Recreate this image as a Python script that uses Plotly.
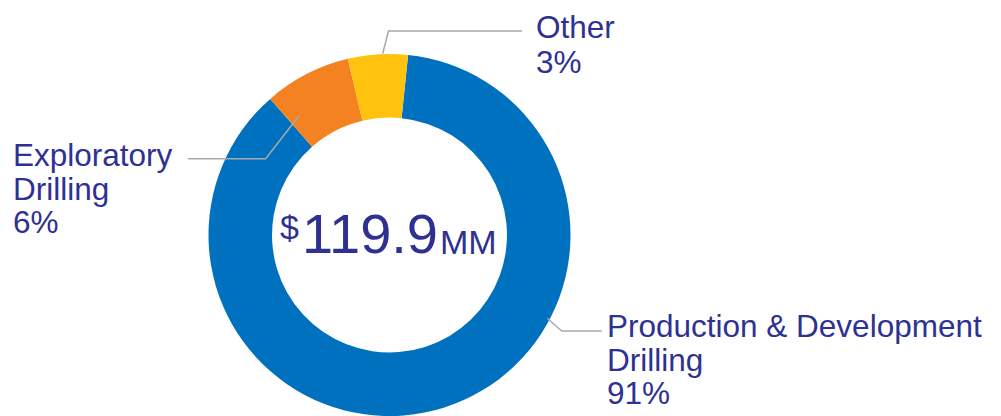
import plotly.graph_objects as go

# ---- data ----
categories = ["Production & Development Drilling", "Exploratory Drilling", "Other"]
values_mm = [104.2, 9.3, 6.4]          # ($MM)
pct_labels = ["91%", "6%", "3%"]       # printed labels
total_label = "119.9"

# page has an 8px body margin; figure fills the rest of the 1001x416 window
OFF = 8
W, H = 1001 - OFF, 416 - OFF
BLUE, ORANGE, YELLOW = "#0071BF", "#F58220", "#FFC20E"
TXT = "#2E3192"
GRAY = "#A7A9AC"
FONT = "Liberation Sans, Arial, sans-serif"


def px(x):
    return (x - OFF) / W


def py(y):
    return 1 - (y - OFF) / H


cx, cy, R = 389.5, 235.0, 181.0

fig = go.Figure(go.Pie(
    labels=categories,
    values=values_mm,
    hole=0.649,
    sort=False,
    direction="clockwise",
    rotation=5.9,
    marker=dict(colors=[BLUE, ORANGE, YELLOW], line=dict(width=0)),
    textinfo="none",
    hoverinfo="label+value",
    showlegend=False,
    domain=dict(x=[px(cx - R), px(cx + R)], y=[max(0, py(cy + R)), py(cy - R)]),
))

annotations = []


def label(text, x, baseline, size=31.5, font=FONT, anchor="left"):
    annotations.append(dict(
        text=text, x=px(x), y=py(baseline - 0.38 * size), xref="paper", yref="paper",
        xanchor=anchor, yanchor="middle", showarrow=False,
        font=dict(family=font, size=size, color=TXT),
    ))


# Other
label(categories[2], 533.5, 39.3)
label(pct_labels[2], 533.5, 74)
# Exploratory
label("Exploratory", 10.5, 166.7)
label("Drilling", 10.5, 200.5)
label(pct_labels[1], 10.5, 234)
# Production
label("Production &amp; Development", 605, 338.3)
label("Drilling", 605, 371.7)
label(pct_labels[0], 605, 405)

# center text
label(total_label, 370, 255, size=56, anchor="center")
label("$", 301, 240, size=34, anchor="right")
label("MM", 438, 255, size=34, anchor="left")


def path(pts):
    s = "M " + " L ".join(f"{px(x)},{py(y)}" for x, y in pts)
    return dict(type="path", path=s, xref="paper", yref="paper",
                line=dict(color=GRAY, width=1.5))


shapes = [
    path([(382.7, 53.5), (388.5, 31), (522, 31)]),
    path([(299, 115.7), (265.7, 158.7), (188, 158.7)]),
    path([(547.3, 318.3), (561.7, 331), (601.7, 331)]),
]

fig.update_layout(
    width=W, height=H,
    margin=dict(l=0, r=0, t=0, b=0),
    paper_bgcolor="white", plot_bgcolor="white",
    annotations=annotations, shapes=shapes,
)

fig.write_html("out.html")
